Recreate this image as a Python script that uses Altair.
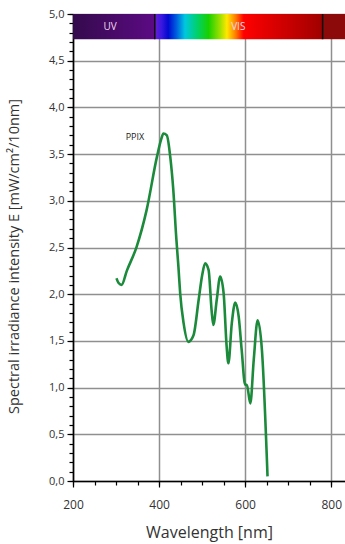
import altair as alt
import pandas as pd

# Curve data
wavelength = [301, 306, 313, 325, 348, 371, 395, 405, 410, 418, 426, 433, 440, 445, 449, 457,
              468, 480, 492, 500, 507, 515, 522, 526, 534, 542, 550, 557, 561, 569, 577, 585,
              592, 600, 604, 612, 620, 629, 639, 652]
irradiance = [2.17, 2.12, 2.10, 2.25, 2.51, 2.90, 3.47, 3.66, 3.72, 3.70, 3.47, 3.12, 2.60, 2.29, 2.01, 1.69,
              1.49, 1.56, 1.94, 2.20, 2.33, 2.26, 1.83, 1.67, 1.94, 2.19, 2.01, 1.44, 1.26, 1.69, 1.91, 1.76,
              1.40, 1.03, 1.03, 0.83, 1.30, 1.72, 1.40, 0.05]

# Spectrum band
band_start = [200, 390, 780]
band_end = [390, 780, 832]
band_name = ["UV", "VIS", "IR"]
band_lo = 4.73
band_hi = 5.0
dividers = [390, 780]
band_labels = ["UV", "VIS"]
band_label_x = [286, 584]

x_major = [200, 400, 600, 800]
x_minor = list(range(200, 851, 50))
y_major = [0.0, 0.5, 1.0, 1.5, 2.0, 2.5, 3.0, 3.5, 4.0, 4.5, 5.0]
y_minor = [round(i * 0.1, 1) for i in range(0, 51)]

font = "Open Sans"
xdom = [200, 832]
ydom = [0, 5]

curve = pd.DataFrame({"wl": wavelength, "E": irradiance})

xscale = alt.Scale(domain=xdom, nice=False, zero=False)
yscale = alt.Scale(domain=ydom, nice=False, zero=False)

ylabel = "replace(format(datum.value, '.1f'), '.', ',')"

# minor ticks layer (drawn first)
minor = alt.Chart(curve).mark_point(opacity=0).encode(
    x=alt.X("wl:Q", scale=xscale,
            axis=alt.Axis(orient="bottom", values=x_minor, title=None, labels=False, grid=False, domain=False,
                          tickColor="#000", tickSize=4, tickWidth=1.2)),
    y=alt.Y("E:Q", scale=yscale,
            axis=alt.Axis(orient="left", values=y_minor, title=None, labels=False, grid=False, domain=False,
                          tickColor="#000", tickSize=4, tickWidth=1.2)),
)

# main curve with major axes and grid
base = alt.Chart(curve).mark_line(color="#1b8a3a", strokeWidth=2.6, interpolate="monotone", clip=True).encode(
    x=alt.X("wl:Q", scale=xscale,
            axis=alt.Axis(orient="bottom", values=x_major, title="Wavelength [nm]", grid=True, gridColor="#8f8f8f",
                          gridWidth=1.5, domainColor="#000", domainWidth=1.6, tickColor="#000",
                          tickSize=6, tickWidth=1.2, labelFont=font, labelFontSize=12, labelColor="#333",
                          labelPadding=12, titleFont=font, titleFontSize=16, titleFontWeight="normal",
                          titleColor="#333", titlePadding=14, labelFlush=False)),
    y=alt.Y("E:Q", scale=yscale,
            axis=alt.Axis(orient="left", values=y_major, title="Spectral irradiance intensity E [mW/cm²/10nm]",
                          grid=True, gridColor="#8f8f8f", gridWidth=1.5, domainColor="#000",
                          domainWidth=1.6, tickColor="#000", tickSize=6, tickWidth=1.2,
                          labelExpr=ylabel, labelFont=font, labelFontSize=11, labelColor="#333",
                          labelPadding=3, titleFont=font, titleFontSize=14.5, titleFontWeight="normal",
                          titleColor="#333", titlePadding=27, titleY=242, labelFlush=False)),
)

bands = pd.DataFrame({"x": band_start, "x2": band_end, "name": band_name,
                      "y": [band_lo] * 3, "y2": [band_hi] * 3})

uv = alt.Chart(bands[bands.name == "UV"]).mark_rect(
    fill={"gradient": "linear", "x1": 0, "x2": 1, "y1": 0, "y2": 0,
          "stops": [{"offset": 0, "color": "#340a4c"}, {"offset": 1, "color": "#5c0a84"}]}
).encode(x=alt.X("x:Q", scale=xscale, axis=None), x2="x2:Q",
         y=alt.Y("y:Q", scale=yscale, axis=None), y2="y2:Q")

vis = alt.Chart(bands[bands.name == "VIS"]).mark_rect(
    fill={"gradient": "linear", "x1": 0, "x2": 1, "y1": 0, "y2": 0,
          "stops": [
              {"offset": 0.0, "color": "#6a1fd0"},
              {"offset": 0.04, "color": "#3a18e0"},
              {"offset": 0.08, "color": "#0008d0"},
              {"offset": 0.13, "color": "#0060e0"},
              {"offset": 0.18, "color": "#00c8e0"},
              {"offset": 0.25, "color": "#00d070"},
              {"offset": 0.32, "color": "#18d000"},
              {"offset": 0.39, "color": "#a0e000"},
              {"offset": 0.43, "color": "#ffe800"},
              {"offset": 0.48, "color": "#ff8000"},
              {"offset": 0.53, "color": "#ff0000"},
              {"offset": 0.68, "color": "#e00000"},
              {"offset": 1.0, "color": "#a00000"}]}
).encode(x=alt.X("x:Q", scale=xscale, axis=None), x2="x2:Q",
         y=alt.Y("y:Q", scale=yscale, axis=None), y2="y2:Q")

ir = alt.Chart(bands[bands.name == "IR"]).mark_rect(fill="#8c0a0a", clip=True).encode(
    x=alt.X("x:Q", scale=xscale, axis=None), x2="x2:Q",
    y=alt.Y("y:Q", scale=yscale, axis=None), y2="y2:Q")

div = alt.Chart(pd.DataFrame({"x": dividers, "y": [band_lo] * 2, "y2": [band_hi] * 2})).mark_rule(
    color="#111", strokeWidth=1.6).encode(
    x=alt.X("x:Q", scale=xscale, axis=None),
    y=alt.Y("y:Q", scale=yscale, axis=None), y2="y2:Q")

blabels = alt.Chart(pd.DataFrame({"x": band_label_x, "t": band_labels, "y": [4.86] * 2})).mark_text(
    font=font, fontSize=10, color="#f0d8f0").encode(
    x=alt.X("x:Q", scale=xscale, axis=None),
    y=alt.Y("y:Q", scale=yscale, axis=None), text="t:N")

ppix = alt.Chart(pd.DataFrame({"x": [344], "y": [3.68], "t": ["PPIX"]})).mark_text(
    font=font, fontSize=9, color="#222").encode(
    x=alt.X("x:Q", scale=xscale, axis=None),
    y=alt.Y("y:Q", scale=yscale, axis=None), text="t:N")

chart = alt.layer(minor, base, uv, vis, ir, div, blabels, ppix).resolve_axis(
    x="independent", y="independent"
).properties(
    width=272, height=467,
    padding={"left": 73, "top": 14, "right": 0, "bottom": 63},
    autosize=alt.AutoSizeParams(type="none"),
).configure_view(stroke=None).configure(background="white")

chart.save("out.html", embed_options={"renderer": "svg", "actions": False})
